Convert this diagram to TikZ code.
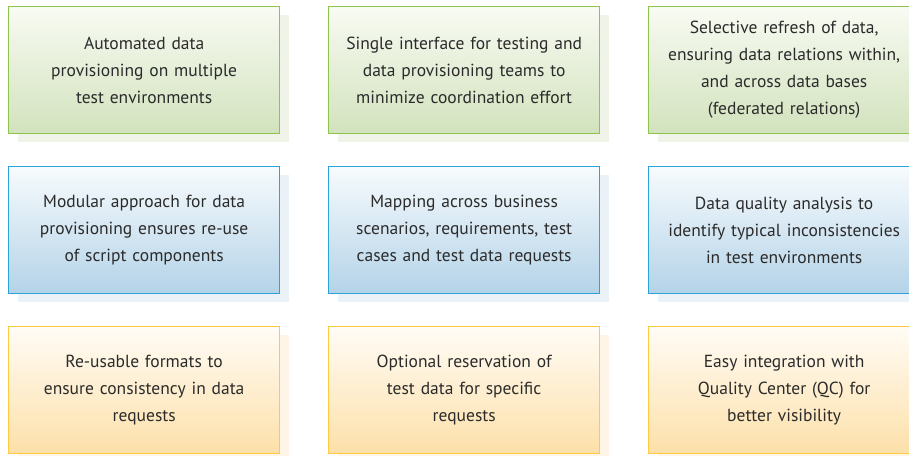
\documentclass[tikz,border=0pt]{standalone}
\usepackage{fontspec}
\setmainfont{PT Sans}
\usetikzlibrary{shadows}
\definecolor{txt}{HTML}{2B2B2B}
\definecolor{gB}{HTML}{8DC54C}
\definecolor{gT}{HTML}{F8FBF3}
\definecolor{gL}{HTML}{D2E2BD}
\definecolor{gS}{HTML}{EFF3E8}
\definecolor{bB}{HTML}{2AA4DB}
\definecolor{bT}{HTML}{F7FBFD}
\definecolor{bL}{HTML}{B4D3E8}
\definecolor{bS}{HTML}{EAF2F8}
\definecolor{oB}{HTML}{FFC940}
\definecolor{oT}{HTML}{FFFCF6}
\definecolor{oL}{HTML}{FDE0A9}
\definecolor{oS}{HTML}{FEF5E6}
\tikzset{
  card/.style={rectangle, anchor=north west, minimum width=271pt, minimum height=127pt,
    inner sep=0pt, line width=1.3pt, align=center, text width=266pt, text=txt,
    font=\fontsize{17.5}{27}\selectfont},
  greencard/.style={card, draw=gB, top color=gT, bottom color=gL,
    drop shadow={shadow xshift=9pt, shadow yshift=-8pt, fill=gS, opacity=1}},
  bluecard/.style={card, draw=bB, top color=bT, bottom color=bL,
    drop shadow={shadow xshift=9pt, shadow yshift=-8pt, fill=bS, opacity=1}},
  orangecard/.style={card, draw=oB, top color=oT, bottom color=oL,
    drop shadow={shadow xshift=9pt, shadow yshift=-8pt, fill=oS, opacity=1}},
}
\begin{document}
\begin{tikzpicture}[x=1pt, y=-1pt]
\useasboundingbox (0,0) rectangle (909,455);
\clip (0,0) rectangle (909,455);
\node[greencard] (a1) at (8,6) {Automated data\\provisioning on multiple\\test environments};
\node[greencard] (a2) at (328,6) {Single interface for testing and\\data provisioning teams to\\minimize coordination effort};
\node[greencard] (a3) at (648,6) {Selective refresh of data,\\ensuring data relations within,\\and across data bases\\(federated relations)};
\node[bluecard] (b1) at (8,166) {Modular approach for data\\provisioning ensures re-use\\of script components};
\node[bluecard] (b2) at (328,166) {Mapping across business\\scenarios, requirements, test\\cases and test data requests};
\node[bluecard] (b3) at (648,166) {Data quality analysis to\\identify typical inconsistencies\\in test environments};
\node[orangecard] (c1) at (8,326) {Re-usable formats to\\ensure consistency in data\\requests};
\node[orangecard] (c2) at (328,326) {Optional reservation of\\test data for specific\\requests};
\node[orangecard] (c3) at (648,326) {Easy integration with\\Quality Center (QC) for\\better visibility};
\end{tikzpicture}
\end{document}
